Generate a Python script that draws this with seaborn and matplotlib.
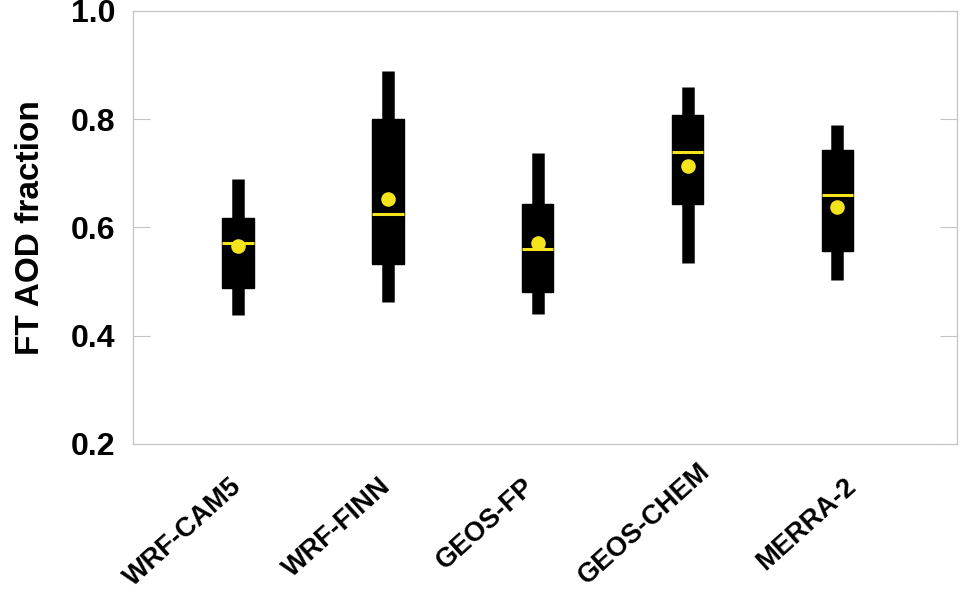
import seaborn as sns
import pandas as pd
import matplotlib.pyplot as plt
from matplotlib.transforms import ScaledTranslation

# five-number summaries, plus the means (yellow dots)
models = ["WRF-CAM5", "WRF-FINN", "GEOS-FP", "GEOS-CHEM", "MERRA-2"]
whisker_low = [0.438, 0.463, 0.440, 0.534, 0.503]
q1 = [0.489, 0.533, 0.481, 0.643, 0.557]
median = [0.571, 0.625, 0.560, 0.740, 0.660]
q3 = [0.617, 0.800, 0.643, 0.808, 0.744]
whisker_high = [0.689, 0.889, 0.738, 0.860, 0.789]
means = [0.565, 0.652, 0.571, 0.714, 0.637]

# 5 sorted values per model -> quartiles land exactly on q1/q3
rows = []
for i, m in enumerate(models):
    for v in (whisker_low[i], q1[i], median[i], q3[i], whisker_high[i]):
        rows.append({"model": m, "frac": v})
df = pd.DataFrame(rows)

sns.set_style("white")
plt.rcParams["font.family"] = ["Liberation Sans", "DejaVu Sans"]
plt.rcParams["font.weight"] = "bold"
plt.rcParams["text.color"] = "black"
plt.rcParams["axes.labelcolor"] = "black"
plt.rcParams["xtick.labelcolor"] = "black"
plt.rcParams["ytick.labelcolor"] = "black"

yellow = "#f3e41c"
grey = "#c4c4c4"

fig = plt.figure(figsize=(9.64, 5.93), dpi=100)
ax = fig.add_axes([0.138, 0.2513, 0.855, 0.7302])

sns.boxplot(data=df, x="model", y="frac", order=models, ax=ax,
            color="black", linecolor="black", fill=True, width=0.21,
            linewidth=1, whis=(0, 100), showcaps=False, showfliers=False,
            whiskerprops=dict(linewidth=9, solid_capstyle="butt", color="black"),
            medianprops=dict(color=yellow, linewidth=2.2))

sns.stripplot(x=models, y=means, order=models, jitter=False, color=yellow,
              size=10.5, linewidth=0, ax=ax, zorder=5)

ax.set_xlim(-0.7, 4.8)
ax.set_ylim(0.2, 1.0)
ax.set_yticks([0.2, 0.4, 0.6, 0.8, 1.0])
ax.set_yticklabels(["0.2", "0.4", "0.6", "0.8", "1.0"], fontsize=23, fontweight="bold")
ax.set_xlabel("")
ax.set_ylabel("FT AOD fraction", fontsize=24, fontweight="bold", labelpad=18)

ax.tick_params(axis="y", direction="in", length=12, width=0.8, color=grey,
               left=True, right=True, pad=12.5)
ax.tick_params(axis="x", length=0, pad=28)

# small per-label nudges (points) to follow the reference placement
nudge = {"GEOS-FP": (-5, 0), "GEOS-CHEM": (14, 11), "MERRA-2": (11, 0)}
for lab in ax.get_xticklabels():
    lab.set_rotation(42)
    lab.set_ha("right")
    lab.set_va("center")
    lab.set_rotation_mode("anchor")
    lab.set_fontsize(19.5)
    lab.set_fontweight("bold")
    dx, dy = nudge.get(lab.get_text(), (0, 0))
    if dx or dy:
        lab.set_transform(lab.get_transform()
                          + ScaledTranslation(dx / 72, dy / 72, fig.dpi_scale_trans))

for s in ax.spines.values():
    s.set_visible(True)
    s.set_color(grey)
    s.set_linewidth(0.9)

fig.savefig("out.png", dpi=100)
